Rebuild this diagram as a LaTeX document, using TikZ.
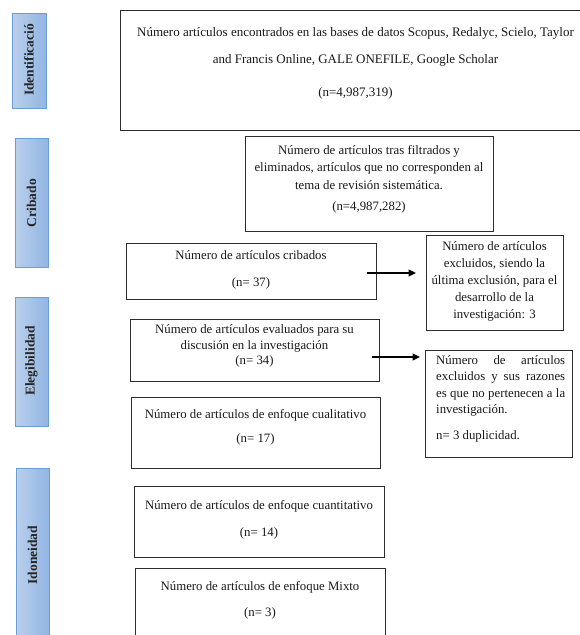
\documentclass[tikz,border=0pt]{standalone}
\usepackage{fontspec}
\setmainfont{Liberation Serif}
\usetikzlibrary{arrows.meta,calc}
\definecolor{lblL}{RGB}{186,208,236}
\definecolor{lblR}{RGB}{146,181,227}
\definecolor{lblB}{RGB}{108,157,214}
\definecolor{boxB}{RGB}{45,45,45}
\tikzset{
  lblbox/.style={draw=lblB, line width=0.8pt, left color=lblL, right color=lblR, inner sep=0pt, outer sep=0pt, anchor=north west},
  lbltxt/.style={rotate=90, font=\fontsize{13.5}{16}\selectfont\bfseries, text=black!85, inner sep=0pt},
  box/.style={draw=boxB, line width=0.9pt, inner sep=0pt, outer sep=0pt, anchor=north west},
  boxline/.style={draw=boxB, line width=0.9pt},
  txt/.style={font=\fontsize{12.8}{16.5}\selectfont, align=center, inner sep=0pt, text=black!90},
  arr/.style={-{Triangle[length=7.5pt,width=7pt]}, line width=1.3pt},
}
\begin{document}
\begin{tikzpicture}[x=1pt,y=-1pt]
\path[use as bounding box, fill=white] (0,0) rectangle (579,635);
% side labels
\node[lblbox, minimum width=34pt, minimum height=95pt] (L1) at (12,13) {};
\node[lbltxt] (L1t) at (29,60) {Identificació};
\node[lblbox, minimum width=33pt, minimum height=129pt] (L2) at (15,138) {};
\node[lbltxt] (L2t) at (31.5,203) {Cribado};
\node[lblbox, minimum width=33pt, minimum height=129pt] (L3) at (15,297) {};
\node[lbltxt] (L3t) at (31.5,361) {Elegibilidad};
\node[lblbox, minimum width=33pt, minimum height=175pt] (L4) at (16,468) {};
\node[lbltxt] (L4t) at (32.5,555) {Idoneidad};
% boxes
\node[box, draw=none, minimum width=470pt, minimum height=120pt] (B1) at (120,10) {};
\draw[boxline] (B1.north east) -- (B1.north west) -- (B1.south west) -- (B1.south east);
\node[txt, font=\fontsize{13}{27}\selectfont] (B1t) at (355.5,63.5) {Número artículos encontrados en las bases de datos Scopus, Redalyc, Scielo, Taylor\\ and Francis Online, GALE ONEFILE, Google Scholar\\[6pt] (n=4,987,319)};
\node[box, minimum width=248pt, minimum height=95pt] (B2) at (245,136) {};
\node[txt, font=\fontsize{12.8}{17.5}\selectfont] (B2t) at (369,179.5) {Número de artículos tras filtrados y\\ eliminados, artículos que no corresponden al\\ tema de revisión sistemática.\\[4pt] (n=4,987,282)};
\node[box, minimum width=250pt, minimum height=56pt] (B3) at (126,243) {};
\node[txt, font=\fontsize{12.8}{27}\selectfont] (B3t) at (251,269.5) {Número de artículos cribados\\ (n= 37)};
\node[box, minimum width=137pt, minimum height=95pt] (E1) at (426,235) {};
\node[txt, font=\fontsize{12.8}{17.2}\selectfont] (E1t) at (494.5,281.5) {Número de artículos\\ excluidos, siendo la\\ última exclusión, para el\\ desarrollo de la\\ investigación: 3};
\node[box, minimum width=249pt, minimum height=62pt] (B4) at (130,319) {};
\node[txt, font=\fontsize{12.8}{15.8}\selectfont] (B4t) at (254.5,346) {Número de artículos evaluados para su\\ discusión en la investigación\\[0pt] (n= 34)};
\node[box, minimum width=147pt, minimum height=107pt] (E2) at (425,350) {};
\node[txt, font=\fontsize{12.8}{16.2}\selectfont, align=justify, text width=129pt, anchor=north west] (E2t) at (436,355.5) {Número de artículos\linebreak excluidos y sus razones\linebreak es que no pertenecen a la\linebreak investigación.\par\vspace{10pt}\noindent n= 3 duplicidad.};
\node[box, minimum width=249pt, minimum height=71pt] (B5) at (131,397) {};
\node[txt, font=\fontsize{12.8}{24}\selectfont] (B5t) at (255.5,427) {Número de artículos de enfoque cualitativo\\ (n= 17)};
\node[box, minimum width=250pt, minimum height=71pt] (B6) at (134,486) {};
\node[txt, font=\fontsize{12.8}{27}\selectfont] (B6t) at (259,520) {Número de artículos de enfoque cuantitativo\\ (n= 14)};
\node[box, draw=none, minimum width=250pt, minimum height=80pt] (B7) at (135,568) {};
\draw[boxline] (B7.south west) -- (B7.north west) -- (B7.north east) -- (B7.south east);
\node[txt, font=\fontsize{12.8}{26}\selectfont] (B7t) at (260,600.5) {Número de artículos de enfoque Mixto\\ (n= 3)};
% arrows
\draw[arr] ($(B3.east)+(-9,2)$) -- ($(B3.east -| E1.west)+(-10,2)$);
\draw[arr] ($(B4.east)+(-7,7)$) -- ($(B4.east -| E2.west)+(-5,7)$);
\end{tikzpicture}
\end{document}
